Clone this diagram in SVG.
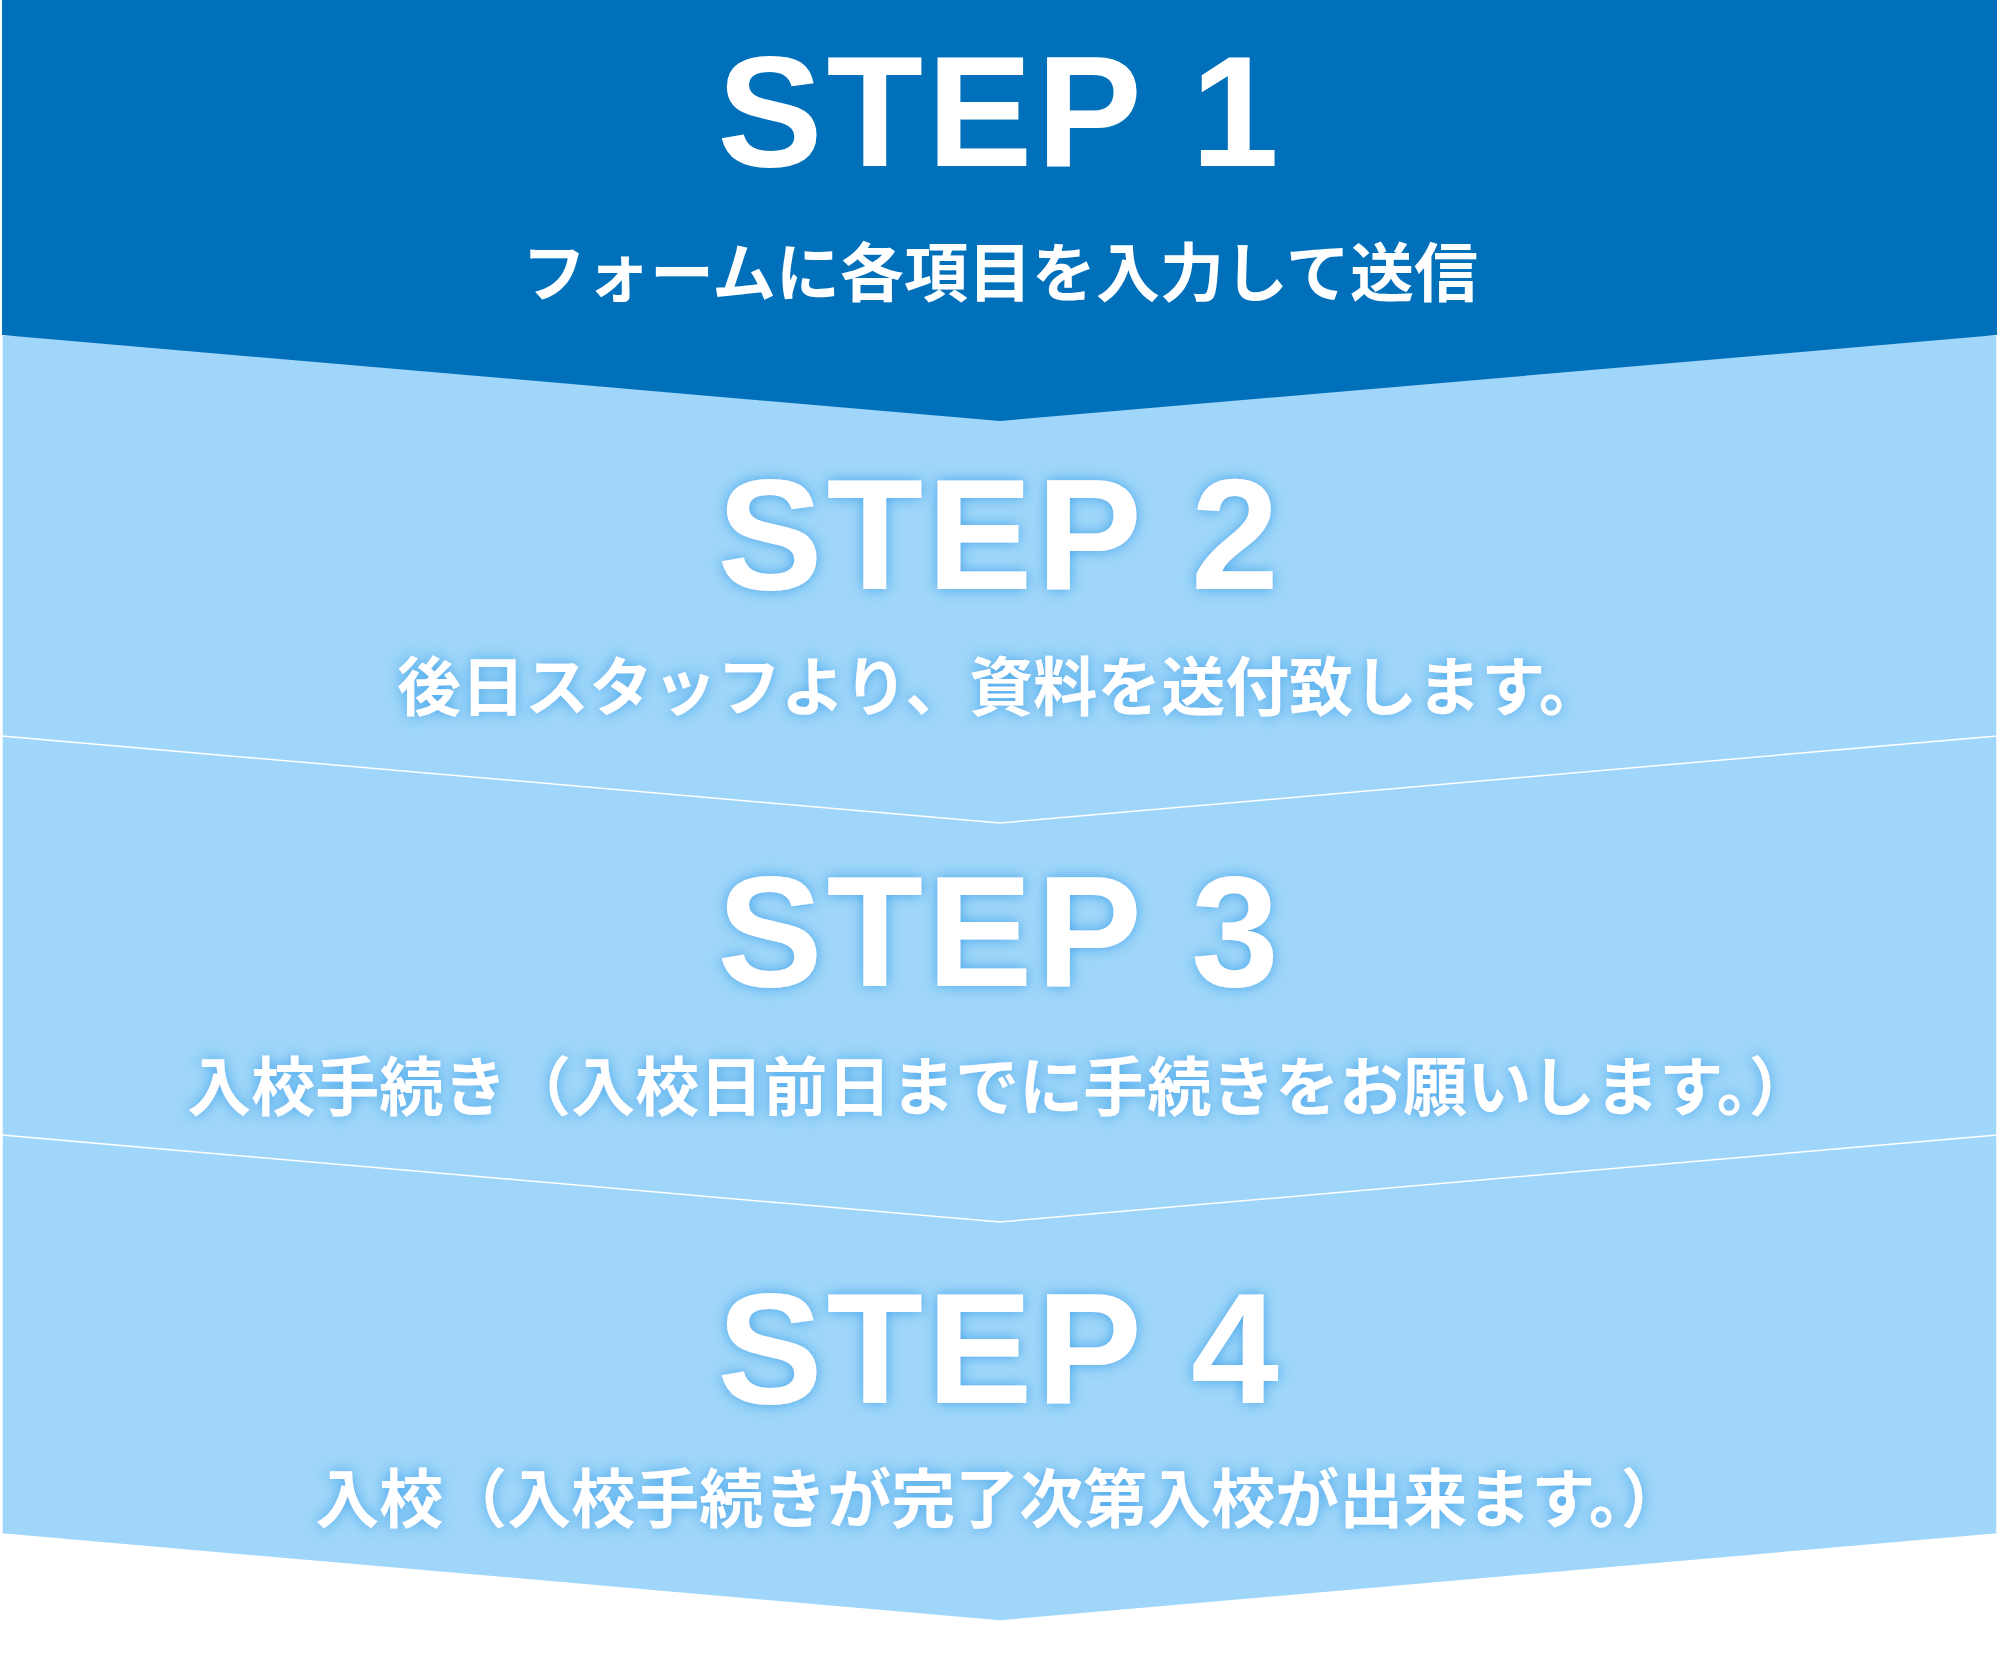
<svg xmlns="http://www.w3.org/2000/svg" width="2000" height="1662" viewBox="0 0 2000 1662">
<defs>
<style>
.lb{fill:#9fd6f9;stroke:#ffffff;stroke-width:1.5}
.st{font-family:"Liberation Sans",Arial,sans-serif;font-weight:bold;font-size:158px;fill:#fff;text-anchor:middle;letter-spacing:4px}
.sub{font-family:"Noto Sans CJK JP",sans-serif;font-weight:bold;font-size:64px;fill:#fff;text-anchor:middle}
.g{filter:url(#glow)}
</style>
<filter id="glow" x="-10%" y="-30%" width="120%" height="160%">
<feGaussianBlur in="SourceAlpha" stdDeviation="7" result="b"/>
<feFlood flood-color="#3aa0e8" flood-opacity="0.9"/>
<feComposite in2="b" operator="in" result="s"/>
<feMerge><feMergeNode in="s"/><feMergeNode in="SourceGraphic"/></feMerge>
</filter>
</defs>
<g id="connectors"></g>
<g id="step4">
<polygon class="lb" points="2,1135 1997,1135 1997,1534 1000,1621 2,1534"/>
<text class="st g" x="1000" y="1403">STEP 4</text>
<text class="sub g" x="1000" y="1522">入校（入校手続きが完了次第入校が出来ます。）</text>
</g>
<g id="step3">
<polygon class="lb" points="2,736 1997,736 1997,1135 1000,1222 2,1135"/>
<text class="st g" x="1000" y="986">STEP 3</text>
<text class="sub g" x="1000" y="1110">入校手続き（入校日前日までに手続きをお願いします。）</text>
</g>
<g id="step2">
<polygon class="lb" points="2,335 1997,335 1997,736 1000,823 2,736"/>
<text class="st g" x="1000" y="589">STEP 2</text>
<text class="sub g" x="1000" y="710">後日スタッフより、資料を送付致します。</text>
</g>
<g id="step1">
<polygon fill="#0070ba" points="2,0 1997,0 1997,335 1000,421 2,335"/>
<text class="st" x="1000" y="166">STEP 1</text>
<text class="sub" x="1000" y="296">フォームに各項目を入力して送信</text>
</g>
</svg>
